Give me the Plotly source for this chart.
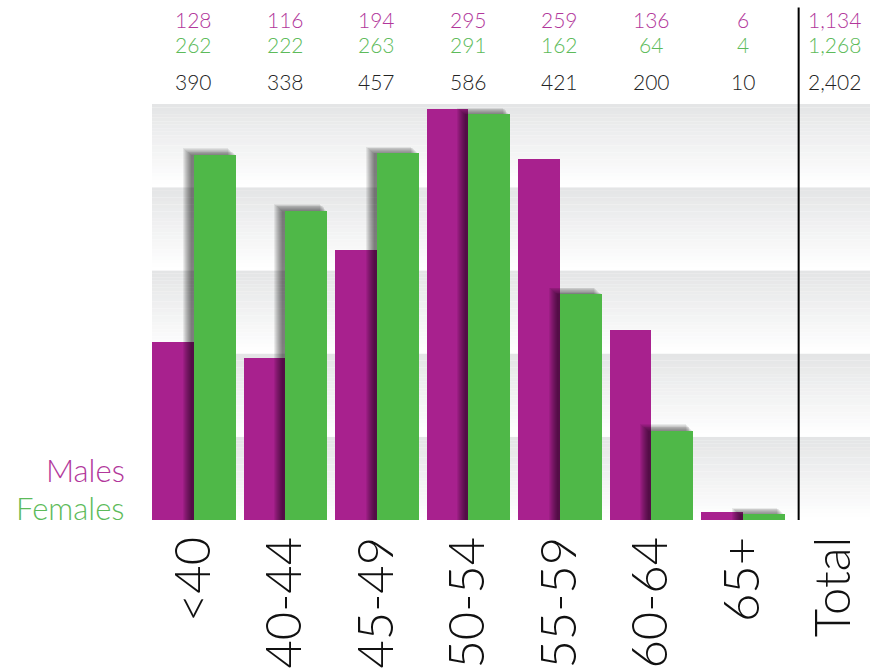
import plotly.graph_objects as go

categories = ["<40", "40-44", "45-49", "50-54", "55-59", "60-64", "65+"]
males = [128, 116, 194, 295, 259, 136, 6]
females = [262, 222, 263, 291, 162, 64, 4]
totals = [390, 338, 457, 586, 421, 200, 10]
total_label = "Total"
males_total = "1,134"
females_total = "1,268"
grand_total = "2,402"

MAG = "#A8218E"
GRN = "#4FB848"
MAG_TXT = "#B2379B"
GRN_TXT = "#5DBB5A"
FONT = "Lato"

Y_MAX = 298.5
N_BANDS = 5
BAR_W = 0.456

xs = list(range(len(categories)))
fig = go.Figure()

# male bars
fig.add_trace(go.Bar(x=xs, y=males, width=BAR_W, offset=-BAR_W,
                     marker=dict(color=MAG, line=dict(width=0)), showlegend=False))
# soft shadow for female bars (layers of translucent dark bars)
for k in range(9):
    grow = 0.011 * k
    fig.add_trace(go.Bar(
        x=xs, y=[v + 0.6 * k if v > 0 else 0 for v in females],
        width=BAR_W + 0.035 + grow - 0.01 * k, offset=-0.035 - grow,
        marker=dict(color="rgba(0,0,0,0.07)", line=dict(width=0)),
        showlegend=False, hoverinfo="skip"))
# female bars
fig.add_trace(go.Bar(x=xs, y=females, width=BAR_W, offset=0,
                     marker=dict(color=GRN, line=dict(width=0)), showlegend=False))

# background gradient bands
shapes = []
band_h = Y_MAX / N_BANDS
strips = 24
top_c = (228, 229, 230)
bot_c = (255, 255, 255)
for b in range(N_BANDS):
    y0 = b * band_h
    for s in range(strips):
        t = s / (strips - 1)
        c = tuple(int(round(bot_c[j] + (top_c[j] - bot_c[j]) * t)) for j in range(3))
        shapes.append(dict(type="rect", xref="paper", yref="y", layer="below",
                           x0=0, x1=1, y0=y0 + band_h * s / strips,
                           y1=y0 + band_h * (s + 1) / strips + 0.05,
                           fillcolor="rgb(%d,%d,%d)" % c, line=dict(width=0)))
# separator line before Total
shapes.append(dict(type="line", xref="x", yref="paper", x0=6.61, x1=6.61,
                   y0=0, y1=1.232, line=dict(color="black", width=2)))

annotations = []
row_y = [(1.204, MAG_TXT), (1.142, GRN_TXT), (1.055, "#222222")]
for i in xs:
    for (yy, col), val in zip(row_y, [males[i], females[i], totals[i]]):
        annotations.append(dict(x=i, y=yy, xref="x", yref="paper", text=str(val),
                                showarrow=False, xanchor="center", yanchor="middle",
                                font=dict(family=FONT, size=21, color=col, weight=300)))
for (yy, col), val in zip(row_y, [males_total, females_total, grand_total]):
    annotations.append(dict(x=7.0, y=yy, xref="x", yref="paper", text=val,
                            showarrow=False, xanchor="center", yanchor="middle",
                            font=dict(family=FONT, size=21, color=col, weight=300)))

annotations.append(dict(x=-0.0348, y=0.120, xref="paper", yref="paper", text="Males",
                        showarrow=False, xanchor="right", yanchor="middle",
                        font=dict(family=FONT, size=31, color=MAG_TXT, weight=300)))
annotations.append(dict(x=-0.0348, y=0.029, xref="paper", yref="paper", text="Females",
                        showarrow=False, xanchor="right", yanchor="middle",
                        font=dict(family=FONT, size=31, color=GRN_TXT, weight=300)))

fig.update_layout(
    width=870, height=671,
    margin=dict(l=152, r=0, t=104, b=151),
    paper_bgcolor="white", plot_bgcolor="white",
    barmode="overlay", bargap=0,
    shapes=shapes, annotations=annotations,
    xaxis=dict(range=[-0.459, 7.39], tickmode="array",
               tickvals=xs + [7], ticktext=categories + [total_label],
               tickangle=-90, ticks="", ticklabelstandoff=6,
               showgrid=False, zeroline=False,
               showline=False, automargin=False,
               tickfont=dict(family=FONT, size=49, color="#111111", weight=300)),
    yaxis=dict(range=[0, Y_MAX], showgrid=False, zeroline=False,
               showticklabels=False, showline=False, ticks="", automargin=False),
)

fig.write_html("out.html")
